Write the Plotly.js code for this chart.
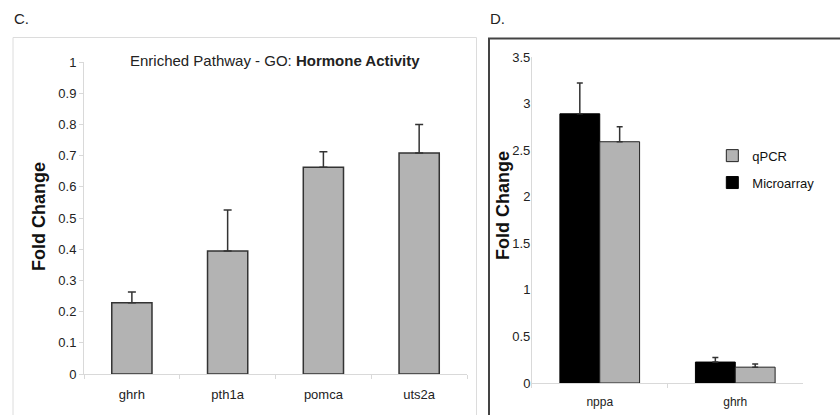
<!DOCTYPE html>
<html>
<head>
<meta charset="utf-8">
<script src="https://cdn.plot.ly/plotly-3.0.1.min.js"></script>
<style>html,body{margin:0;padding:0;background:#fff;}#chart{width:840px;height:415px;}</style>
</head>
<body>
<div id="chart"></div>
<script>
// Panel C data
var genesC = ["ghrh", "pth1a", "pomca", "uts2a"];
var foldC = [0.228, 0.394, 0.663, 0.708];
var errC = [0.035, 0.132, 0.049, 0.092];
var ticksC = [0, 0.1, 0.2, 0.3, 0.4, 0.5, 0.6, 0.7, 0.8, 0.9, 1];

// Panel D data
var genesD = ["nppa", "ghrh"];
var microarray = [2.89, 0.225];
var microarrayErr = [0.33, 0.05];
var qpcr = [2.59, 0.17];
var qpcrErr = [0.16, 0.035];
var ticksD = [0, 0.5, 1, 1.5, 2, 2.5, 3, 3.5];

var sans = "Liberation Sans, Arial, sans-serif";

function zeros(a) { return a.map(function () { return 0; }); }

var traces = [
  {
    type: "bar", x: genesC, y: foldC, xaxis: "x", yaxis: "y", showlegend: false,
    width: 0.42,
    marker: {color: "#b3b3b3", line: {color: "#333", width: 1.5}},
    error_y: {type: "data", symmetric: false, array: errC, arrayminus: zeros(errC),
              color: "#333", thickness: 1.5, width: 4}
  },
  {
    type: "bar", name: "Microarray", x: genesD, y: microarray, xaxis: "x2", yaxis: "y2",
    width: 0.294, offset: -0.294, legendgroup: "m", legendrank: 2,
    marker: {color: "#000", line: {color: "#000", width: 1}},
    error_y: {type: "data", symmetric: false, array: microarrayErr, arrayminus: zeros(microarrayErr),
              color: "#333", thickness: 1.5, width: 3}
  },
  {
    type: "bar", name: "qPCR", x: genesD, y: qpcr, xaxis: "x2", yaxis: "y2",
    width: 0.294, offset: 0, legendgroup: "q", legendrank: 1,
    marker: {color: "#b3b3b3", line: {color: "#222", width: 1}},
    error_y: {type: "data", symmetric: false, array: qpcrErr, arrayminus: zeros(qpcrErr),
              color: "#333", thickness: 1.5, width: 3}
  }
];

var layout = {
  width: 840, height: 415,
  margin: {l: 0, r: 0, t: 0, b: 0, autoexpand: false},
  paper_bgcolor: "#fff", plot_bgcolor: "rgba(0,0,0,0)",
  barmode: "overlay",
  showlegend: true,
  legend: {
    x: 0.848, y: 0.661, xanchor: "left", yanchor: "top",
    traceorder: "grouped", tracegroupgap: 7,
    font: {family: sans, size: 13, color: "#111"},
    itemwidth: 30, bgcolor: "rgba(0,0,0,0)"
  },
  xaxis: {
    domain: [0.1, 0.556], anchor: "y", type: "category",
    showline: true, linecolor: "#d9d9d9", linewidth: 1,
    ticks: "outside", tickson: "boundaries", ticklen: 4, tickcolor: "#d9d9d9",
    ticklabelstandoff: 8,
    tickfont: {family: sans, size: 13, color: "#222"},
    showgrid: false, zeroline: false, fixedrange: true
  },
  yaxis: {
    domain: [0.0988, 0.8506], anchor: "x", range: [0, 1],
    tickvals: ticksC, ticktext: ticksC.map(String),
    showline: true, linecolor: "#d9d9d9", linewidth: 1,
    ticks: "outside", ticklen: 4, tickcolor: "#d9d9d9",
    tickfont: {family: sans, size: 13, color: "#222"},
    showgrid: false, zeroline: false, fixedrange: true
  },
  xaxis2: {
    domain: [0.6333, 0.956], anchor: "y2", type: "category",
    showline: true, linecolor: "#d9d9d9", linewidth: 1,
    ticks: "outside", tickson: "boundaries", ticklen: 4, tickcolor: "#d9d9d9",
    ticklabelstandoff: 8,
    tickfont: {family: sans, size: 12, color: "#222"},
    showgrid: false, zeroline: false, fixedrange: true
  },
  yaxis2: {
    domain: [0.0771, 0.8627], anchor: "x2", range: [0, 3.5],
    tickvals: ticksD, ticktext: ticksD.map(String),
    showline: true, linecolor: "#d9d9d9", linewidth: 1,
    ticks: "", ticklabelstandoff: -2,
    tickfont: {family: sans, size: 13, color: "#222"},
    showgrid: false, zeroline: false, fixedrange: true
  },
  shapes: [
    {type: "rect", xref: "paper", yref: "paper", x0: 13/840, x1: 476.5/840, y0: -0.05, y1: 1 - 37.5/415,
     line: {color: "#dcdcdc", width: 1}, fillcolor: "rgba(0,0,0,0)", layer: "below"},
    {type: "rect", xref: "paper", yref: "paper", x0: 489/840, x1: 1.05, y0: -0.05, y1: 1 - 38.5/415,
     line: {color: "#444", width: 2}, fillcolor: "rgba(0,0,0,0)", layer: "below"}
  ],
  annotations: [
    {xref: "paper", yref: "paper", x: 12/840, y: 1 - 18/415, xanchor: "left", yanchor: "middle",
     text: "C.", showarrow: false, font: {family: sans, size: 15, color: "#222"}},
    {xref: "paper", yref: "paper", x: 488/840, y: 1 - 18/415, xanchor: "left", yanchor: "middle",
     text: "D.", showarrow: false, font: {family: sans, size: 15, color: "#222"}},
    {xref: "paper", yref: "paper", x: 275/840, y: 1 - 60/415, xanchor: "center", yanchor: "middle",
     text: "Enriched Pathway - GO: <b>Hormone Activity</b>", showarrow: false,
     font: {family: sans, size: 15, color: "#222"}},
    {xref: "paper", yref: "paper", x: 39/840, y: 1 - 217/415, xanchor: "center", yanchor: "middle",
     text: "<b>Fold Change</b>", textangle: -90, showarrow: false,
     font: {family: sans, size: 18, color: "#111"}},
    {xref: "paper", yref: "paper", x: 503/840, y: 1 - 206/415, xanchor: "center", yanchor: "middle",
     text: "<b>Fold Change</b>", textangle: -90, showarrow: false,
     font: {family: sans, size: 18, color: "#111"}}
  ]
};

Plotly.newPlot("chart", traces, layout, {displayModeBar: false, staticPlot: true});
</script>
</body>
</html>
